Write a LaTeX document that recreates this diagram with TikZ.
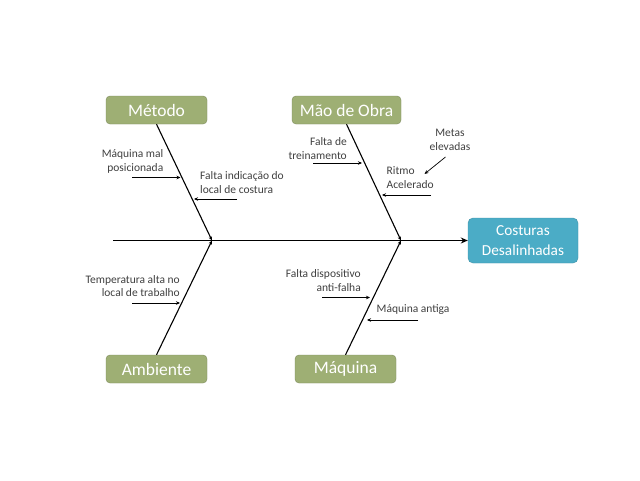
\documentclass[tikz,border=0pt]{standalone}
\usepackage{fontspec}
\setmainfont{Carlito}
\usetikzlibrary{arrows.meta}
\definecolor{catgreen}{HTML}{9EAF74}
\definecolor{effblue}{HTML}{4BACC6}
\definecolor{txtgray}{HTML}{404040}
\tikzset{
  catbox/.style={draw=catgreen!80!black, line width=0.4pt, fill=catgreen, rounded corners=4pt,
    minimum width=101pt, minimum height=28pt, inner sep=0pt, text=white,
    font=\fontsize{17.5}{20}\selectfont},
  effbox/.style={draw=effblue!85!black, line width=0.4pt, fill=effblue, rounded corners=5pt,
    minimum width=110pt, minimum height=45pt, inner sep=0pt, text=white, align=center,
    font=\fontsize{15.3}{20}\selectfont},
  cause/.style={inner sep=0pt, text=txtgray, font=\fontsize{11.5}{13.5}\selectfont},
  spine/.style={line width=1.5pt, -{Stealth[length=7pt,width=6pt]}},
  bone/.style={line width=1.1pt, -{Stealth[length=4pt,width=3.5pt]}},
  sub/.style={line width=0.7pt, -{Stealth[length=4pt,width=3.5pt]}}
}
\begin{document}
\begin{tikzpicture}[x=1pt,y=-1pt]
\useasboundingbox (0,0) rectangle (640,480);
\fill[white] (0,0) rectangle (640,480);

% categories
\node[catbox] (metodo) at (156.5,110) {Método};
\node[catbox, minimum width=109pt] (mao) at (346.5,110) {Mão de Obra};
\node[catbox] (ambiente) at (156.5,369) {Ambiente};
\node[catbox] (maquina) at (345.5,369) {Máquina};
\node[effbox] (efeito) at (523,240.5) {Costuras\\Desalinhadas};

% spine
\coordinate (s0) at (113,240.5);
\coordinate (j1) at (212,240.5);
\coordinate (j2) at (401,240.5);
\draw[spine] (s0) -- (efeito.west);

% bones
\draw[bone] (metodo.south) -- (j1);
\draw[bone] (ambiente.north) -- (j1);
\draw[bone] (mao.south) -- (j2);
\draw[bone] (maquina.north) -- (j2);

% causes - Metodo
\node[cause, align=right, anchor=east] (c1) at (163.5,161.5) {Máquina mal\\posicionada};
\coordinate (c1a) at (132,177.5);
\coordinate (c1b) at (180.5,177.5);
\draw[sub] (c1a) -- (c1b);

\node[cause, align=left, anchor=west] (c2) at (200,182.5) {Falta indicação do\\local de costura};
\coordinate (c2a) at (237,199);
\coordinate (c2b) at (194,199);
\draw[sub] (c2a) -- (c2b);

% causes - Mao de Obra
\node[cause, align=right, anchor=east] (c3) at (347,148.5) {Falta de\\treinamento};
\coordinate (c3a) at (313,163);
\coordinate (c3b) at (362,163);
\draw[sub] (c3a) -- (c3b);

\node[cause, align=left, anchor=west] (c4) at (386.5,177.5) {Ritmo\\Acelerado};
\coordinate (c4a) at (431,195);
\coordinate (c4b) at (382,195);
\draw[sub] (c4a) -- (c4b);

\node[cause, align=center] (c5) at (450,140) {Metas\\elevadas};
\coordinate (c5a) at (445.5,157);
\coordinate (c5b) at (424.5,174);
\draw[sub] (c5a) -- (c5b);

% causes - Ambiente
\node[cause, align=right, anchor=east] (c6) at (180,286) {Temperatura alta no\\local de trabalho};
\coordinate (c6a) at (132,303);
\coordinate (c6b) at (180,303);
\draw[sub] (c6a) -- (c6b);

% causes - Maquina
\node[cause, align=right, anchor=east] (c7) at (361,280.5) {Falta dispositivo\\anti-falha};
\coordinate (c7a) at (322,297.5);
\coordinate (c7b) at (370,297.5);
\draw[sub] (c7a) -- (c7b);

\node[cause, align=left, anchor=west] (c8) at (376.5,310) {Máquina antiga};
\coordinate (c8a) at (418,320);
\coordinate (c8b) at (367,320);
\draw[sub] (c8a) -- (c8b);
\end{tikzpicture}
\end{document}
